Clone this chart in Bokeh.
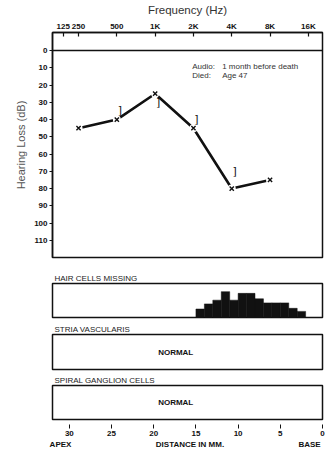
import numpy as np
from bokeh.plotting import figure
from bokeh.layouts import column
from bokeh.models import Range1d, FixedTicker, LinearAxis, Label, Span
from bokeh.core.properties import value
from bokeh.embed import file_html
from bokeh.resources import INLINE

# ---------------- data ----------------
freq_tick_labels = ["125", "250", "500", "1K", "2K", "4K", "8K", "16K"]
freq_tick_pos = [-0.4, 0, 1, 2, 3, 4, 5, 6]          # octaves above 250 Hz (125 compressed as in original)
air_freqs = [250, 500, 1000, 2000, 4000, 8000]
air_db = [45, 40, 25, 45, 80, 75]
bone_freqs = [500, 1000, 2000, 4000]
bone_db = [35, 30, 40, 70]
db_ticks = [0, 10, 20, 30, 40, 50, 60, 70, 80, 90, 100, 110]

bin_start_mm = [15, 14, 13, 12, 11, 10, 9, 8, 7, 6, 5, 4, 3]
bin_end_mm = [14, 13, 12, 11, 10, 9, 8, 7, 6, 5, 4, 3, 2]
hair_loss_pct = [25, 40, 51, 76, 51, 71, 71, 55, 43, 43, 43, 27, 18]
dist_ticks = [30, 25, 20, 15, 10, 5, 0]
dist_words = {31.05: "APEX", 15.44: "DISTANCE  IN  MM.", 1.54: "BASE"}

INK = "#111111"
FONT = "Liberation Sans"
W = 325
ML, MR = 52, 3

air_x = list(np.log2(np.array(air_freqs) / 250.0))
bone_x = list(np.log2(np.array(bone_freqs) / 250.0))

# ---------------- audiogram ----------------
f1 = figure(width=W, height=270, x_range=Range1d(-0.68, 6.37), y_range=Range1d(120, -10.5),
            output_backend="svg", toolbar_location=None, x_axis_location="above",
            min_border_left=ML, min_border_right=MR, min_border_top=31, min_border_bottom=13)
f1.grid.visible = False
f1.outline_line_color = INK
f1.outline_line_width = 1.5

xa = f1.xaxis[0]
xa.ticker = FixedTicker(ticks=freq_tick_pos)
xa.major_label_overrides = {p: l for p, l in zip(freq_tick_pos, freq_tick_labels)}
xa.axis_label = "Frequency (Hz)"
xa.axis_label_text_font = FONT
xa.axis_label_text_font_size = "11.5px"
xa.axis_label_text_font_style = "normal"
xa.axis_label_text_color = "#333333"
xa.axis_label_standoff = 3
xa.major_label_standoff = 2
xa.major_tick_in = 4
xa.major_tick_out = 0

ya = f1.yaxis[0]
ya.ticker = FixedTicker(ticks=db_ticks)
ya.axis_label = "Hearing Loss (dB)"
ya.axis_label_text_font = FONT
ya.axis_label_text_font_size = "11px"
ya.axis_label_text_font_style = "normal"
ya.axis_label_text_color = "#555555"
ya.axis_label_standoff = 4
ya.major_label_standoff = 2
ya.major_tick_in = 0
ya.major_tick_out = 3

for ax in (xa, ya):
    ax.major_label_text_font = FONT
    ax.major_label_text_font_size = "8px"
    ax.major_label_text_font_style = "bold"
    ax.major_label_text_color = INK
    ax.axis_line_color = INK
    ax.axis_line_width = 1.5
    ax.major_tick_line_color = INK
    ax.major_tick_line_width = 1.2
    ax.minor_tick_line_color = None

f1.add_layout(Span(location=0, dimension="width", line_color=INK, line_width=1.5))
f1.line(air_x, air_db, line_color=INK, line_width=2.6)
f1.scatter(air_x, air_db, marker="circle", size=8, fill_color="white", line_color=None)
f1.scatter(air_x, air_db, marker="x", size=6, line_color=INK, line_width=1.4)
f1.text(bone_x, bone_db, text=["]"] * len(bone_x), x_offset=3, text_align="center",
        text_baseline="middle", text_font=value("DejaVu Sans"), text_font_size="11px",
        text_color=INK)

for txt, x, y in [("Audio:", 2.97, 9), ("1 month before death", 3.75, 9),
                  ("Died:", 2.97, 14.5), ("Age 47", 3.75, 14.5)]:
    f1.add_layout(Label(x=x, y=y, text=txt, text_font=FONT, text_font_size="8px",
                        text_color="#333333", text_baseline="middle"))


# ---------------- histology panels ----------------
def panel(title, height, mb, with_axis=False):
    p = figure(width=W, height=height, x_range=Range1d(32, 0), y_range=Range1d(0, 100),
               output_backend="svg", toolbar_location=None, title=title,
               x_axis_location="below" if with_axis else None, y_axis_location=None,
               min_border_left=ML, min_border_right=MR, min_border_top=13, min_border_bottom=mb)
    p.grid.visible = False
    p.outline_line_color = INK
    p.outline_line_width = 1.5
    p.title.text_font = FONT
    p.title.text_font_size = "8px"
    p.title.text_font_style = "normal"
    p.title.text_color = "#222222"
    p.title.align = "left"
    p.title.offset = 2
    p.title.standoff = 1
    return p


f2 = panel("HAIR CELLS MISSING", 51, 4)
f2.quad(left=bin_start_mm, right=bin_end_mm, bottom=0, top=hair_loss_pct,
        fill_color=INK, line_color=INK, line_width=0.5)

f3 = panel("STRIA VASCULARIS", 51, 3)
f4 = panel("SPIRAL GANGLION CELLS", 84, 37, with_axis=True)
for p in (f3, f4):
    p.text([17.4], [50], text=["NORMAL"], text_align="center", text_baseline="middle",
           text_font=value(FONT), text_font_size="8px", text_font_style="bold", text_color=INK)

da = f4.xaxis[0]
da.ticker = FixedTicker(ticks=dist_ticks)
da.axis_line_color = None
da.major_tick_in = -5
da.major_tick_out = 9
da.major_tick_line_color = INK
da.major_tick_line_width = 1
da.major_label_standoff = 2

dw = LinearAxis(ticker=FixedTicker(ticks=list(dist_words.keys())), major_label_overrides=dist_words,
                axis_line_color=None, major_tick_line_color=None, minor_tick_line_color=None,
                major_tick_in=0, major_tick_out=0, major_label_standoff=1)
f4.add_layout(dw, "below")
for ax in (da, dw):
    ax.major_label_text_font = FONT
    ax.major_label_text_font_size = "8px"
    ax.major_label_text_font_style = "bold"
    ax.major_label_text_color = INK
    ax.minor_tick_line_color = None

layout = column(f1, f2, f3, f4)
open("out.html", "w").write(file_html(layout, INLINE))
